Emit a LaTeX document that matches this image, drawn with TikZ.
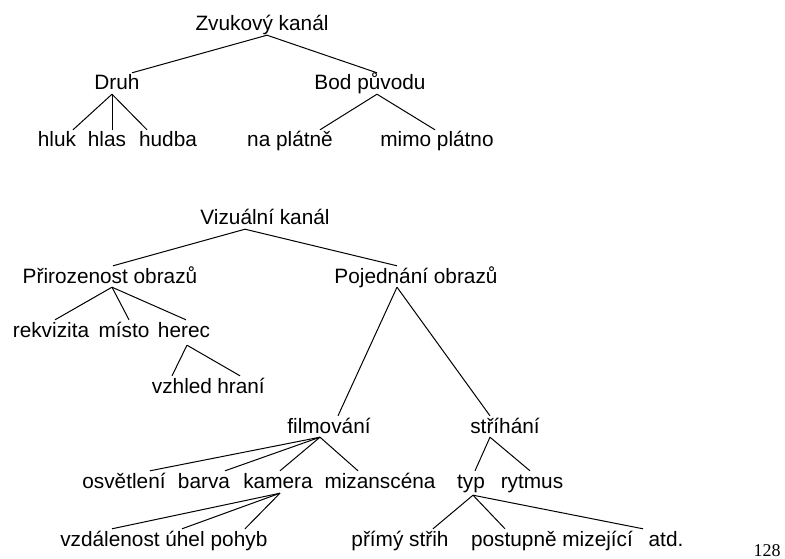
\documentclass[tikz,border=0pt]{standalone}
\usepackage{fontspec}
\setmainfont{Liberation Sans}
\newfontfamily\pagenumfont{Liberation Serif}
\begin{document}
\begin{tikzpicture}[x=1pt,y=-1pt,
  word/.style={font=\fontsize{20.8}{25}\selectfont,inner sep=0pt,anchor=base,
    text height=17pt,text depth=4pt},
  branch/.style={line width=1pt}]
\useasboundingbox (0,0) rectangle (785,559);
% sound channel
\node[word] (zvuk) at (262,31) {Zvukový kanál};
\node[word] (druh) at (117,90) {Druh};
\node[word] (bod) at (370,90) {Bod původu};
\node[word] (hluk) at (57,147) {hluk};
\node[word] (hlas) at (107,147) {hlas};
\node[word] (hudba) at (168,147) {hudba};
\node[word] (naplatne) at (290,147) {na plátně};
\node[word] (mimo) at (437,147) {mimo plátno};
\draw[branch] ([xshift=5pt]zvuk.south)--([xshift=15pt]druh.north);
\draw[branch] ([xshift=5pt]zvuk.south)--([xshift=7pt]bod.north);
\draw[branch] ([xshift=-5pt]druh.south)--([xshift=16pt]hluk.north);
\draw[branch] ([xshift=-5pt]druh.south)--([xshift=5pt]hlas.north);
\draw[branch] ([xshift=-5pt]druh.south)--([xshift=-21pt]hudba.north);
\draw[branch] ([xshift=7pt]bod.south)--([xshift=30pt]naplatne.north);
\draw[branch] ([xshift=7pt]bod.south)--([xshift=-2pt]mimo.north);
% visual channel
\node[word] (vizual) at (265,225) {Vizuální kanál};
\node[word] (priroz) at (110,283) {Přirozenost obrazů};
\node[word] (pojed) at (416,283) {Pojednání obrazů};
\node[word] (rekvizita) at (51,337) {rekvizita};
\node[word] (misto) at (124,337) {místo};
\node[word] (herec) at (184,337) {herec};
\node[word] (vzhled) at (182,393) {vzhled};
\node[word] (hrani) at (241,393) {hraní};
\draw[branch] ([xshift=-20pt]vizual.south)--([xshift=3pt]priroz.north);
\draw[branch] ([xshift=-20pt]vizual.south)--([xshift=-19pt]pojed.north);
\draw[branch] ([xshift=2pt]priroz.south)--([xshift=4pt]rekvizita.north);
\draw[branch] ([xshift=2pt]priroz.south)--([xshift=5pt]misto.north);
\draw[branch] ([xshift=2pt]priroz.south)--([xshift=2pt]herec.north);
\draw[branch] ([xshift=3pt,yshift=-4pt]herec.south)--([xshift=-10pt]vzhled.north);
\draw[branch] ([xshift=3pt,yshift=-4pt]herec.south)--([xshift=-1pt]hrani.north);
% treatment of images
\node[word] (filmovani) at (329,433) {filmování};
\node[word] (strihani) at (505,433) {stříhání};
\node[word] (osvetleni) at (124,488) {osvětlení};
\node[word] (barva) at (204,488) {barva};
\node[word] (kamera) at (278,488) {kamera};
\node[word] (mizanscena) at (380,488) {mizanscéna};
\node[word] (typ) at (471,488) {typ};
\node[word] (rytmus) at (532,488) {rytmus};
\node[word] (vzdalenost) at (110,546) {vzdálenost};
\node[word] (uhel) at (185,546) {úhel};
\node[word] (pohyb) at (239,546) {pohyb};
\node[word] (primy) at (400,546) {přímý střih};
\node[word] (postupne) at (552,546) {postupně mizející};
\node[word] (atd) at (666,546) {atd.};
\draw[branch] ([xshift=-19pt]pojed.south)--([xshift=9pt]filmovani.north);
\draw[branch] ([xshift=-19pt]pojed.south)--([xshift=-15pt]strihani.north);
\draw[branch] ([xshift=-9pt]filmovani.south)--([xshift=26pt]osvetleni.north);
\draw[branch] ([xshift=-9pt]filmovani.south)--([xshift=21pt]barva.north);
\draw[branch] ([xshift=-9pt]filmovani.south)--([xshift=2pt]kamera.north);
\draw[branch] ([xshift=-9pt]filmovani.south)--([xshift=-22pt]mizanscena.north);
\draw[branch] ([xshift=-15pt]strihani.south)--([xshift=4pt]typ.north);
\draw[branch] ([xshift=-15pt]strihani.south)--([xshift=-2pt]rytmus.north);
\draw[branch] ([xshift=2pt,yshift=-1pt]kamera.south)--([xshift=2pt]vzdalenost.north);
\draw[branch] ([xshift=2pt,yshift=-1pt]kamera.south)--([xshift=-3pt]uhel.north);
\draw[branch] ([xshift=2pt,yshift=-1pt]kamera.south)--([xshift=6pt]pohyb.north);
\draw[branch] ([xshift=2pt,yshift=-3pt]typ.south)--([xshift=33pt]primy.north);
\draw[branch] ([xshift=2pt,yshift=-3pt]typ.south)--([xshift=-47pt]postupne.north);
\draw[branch] ([xshift=2pt,yshift=-3pt]typ.south)--([xshift=-23pt]atd.north);
% page number
\node[font=\pagenumfont\fontsize{18}{20}\selectfont,inner sep=0pt,anchor=base] (page) at (767,556) {128};
\end{tikzpicture}
\end{document}
